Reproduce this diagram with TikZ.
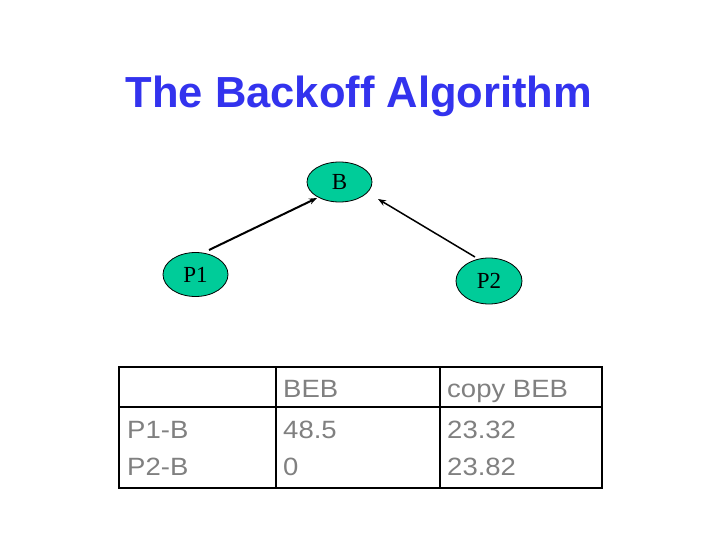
\documentclass[tikz,border=0pt]{standalone}
\usepackage{fontspec}
\setmainfont{Liberation Serif}
\setsansfont{Liberation Sans}
\usetikzlibrary{arrows.meta,shapes.geometric}
\definecolor{titleblue}{RGB}{51,51,238}
\definecolor{nodegreen}{RGB}{0,204,153}
\definecolor{cellgray}{RGB}{128,128,128}
\begin{document}
\begin{tikzpicture}[x=1pt,y=-1pt,
  procnode/.style={ellipse,draw=black,line width=0.8pt,fill=nodegreen,inner sep=0pt,
    minimum width=65pt,minimum height=40pt,font=\fontsize{23}{25}\selectfont},
  link/.style={draw=black,-{Stealth[length=8pt,width=6pt]}},
  celltext/.style={anchor=base west,text=cellgray,inner sep=0pt,xscale=1.1,font=\sffamily\fontsize{25}{27}\selectfont},
  tableline/.style={draw=black,line width=2.5pt}]
\useasboundingbox (0,0) rectangle (720,540);
\fill[white] (0,0) rectangle (720,540);
\node[anchor=base,text=titleblue,inner sep=0pt,font=\sffamily\bfseries\fontsize{43.5}{46}\selectfont] (title) at (359,108) {The Backoff Algorithm};
\node[procnode] (B) at (339.5,182) {B};
\node[procnode,minimum height=44pt] (P1) at (195.5,274.5) {P1};
\node[procnode,minimum width=66pt,minimum height=46pt] (P2) at (489,281) {P2};
\coordinate (a1s) at (209,250);
\coordinate (a1e) at (317,198);
\coordinate (a2s) at (475,257);
\coordinate (a2e) at (378,199);
\draw[link,line width=2pt] (a1s) -- (a1e);
\draw[link,line width=1.5pt] (a2s) -- (a2e);
% table
\coordinate (tl) at (119,367);
\coordinate (br) at (602,488);
\coordinate (v1t) at (276,367);
\coordinate (v1b) at (276,488);
\coordinate (v2t) at (440,367);
\coordinate (v2b) at (440,488);
\coordinate (hl) at (119,407);
\coordinate (hr) at (602,407);
\draw[tableline] (tl) rectangle (br);
\draw[tableline] (v1t) -- (v1b);
\draw[tableline] (v2t) -- (v2b);
\draw[tableline] (hl) -- (hr);
\node[celltext] (c12) at (283,397) {BEB};
\node[celltext] (c13) at (447,397) {copy BEB};
\node[celltext] (c21) at (127,438) {P1-B};
\node[celltext] (c22) at (283,438) {48.5};
\node[celltext] (c23) at (447,438) {23.32};
\node[celltext] (c31) at (127,475) {P2-B};
\node[celltext] (c32) at (283,475) {0};
\node[celltext] (c33) at (447,475) {23.82};
\end{tikzpicture}
\end{document}
